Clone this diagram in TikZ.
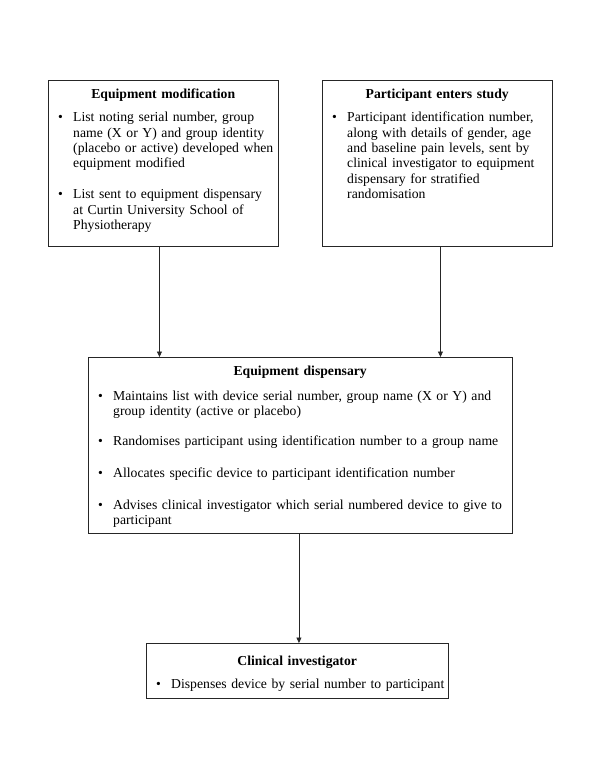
\documentclass[tikz,border=0pt]{standalone}
\usepackage{fontspec}
\setmainfont{Liberation Serif}
\usetikzlibrary{arrows.meta}
\newcommand\itm[1]{\par\noindent\hspace*{10pt}\makebox[15pt][l]{\textbullet}\parbox[t]{\dimexpr\linewidth-25pt\relax}{\raggedright #1}\par}
\newcommand\ttl[2][8pt]{\centerline{\textbf{#2}}\par\vspace{#1}}
\tikzset{
  frame/.style={draw=black!85, line width=0.9pt, inner sep=0pt, anchor=north west},
  txt/.style={inner sep=0pt, anchor=north west, font=\fontsize{13.7}{15.4}\selectfont},
  arr/.style={draw=black!85, line width=0.8pt, -{Triangle[length=5.5pt,width=5pt]}}
}
\begin{document}
\begin{tikzpicture}[x=1pt,y=-1pt]
\useasboundingbox[fill=white] (0,0) rectangle (600,776);
\node[frame, minimum width=230pt, minimum height=166pt] (mod) at (48,80) {};
\node[frame, minimum width=230pt, minimum height=166pt] (part) at (322,80) {};
\node[frame, minimum width=424pt, minimum height=176pt] (disp) at (88,357) {};
\node[frame, minimum width=302pt, minimum height=55pt] (clin) at (146,643) {};

\node[txt, text width=230pt] (modtxt) at (48,88.5) {%
\ttl{Equipment modification}%
\itm{List noting serial number, group\\name (X or Y) and group identity\\(placebo or active) developed when\\equipment modified}%
\vspace{17.5pt}%
\itm{List sent to equipment dispensary\\at Curtin University School of\\Physiotherapy}};

\node[txt, text width=230pt] (parttxt) at (322,88.5) {%
\ttl{Participant enters study}%
\itm{Participant identification number,\\along with details of gender, age\\and baseline pain levels, sent by\\clinical investigator to equipment\\dispensary for stratified\\randomisation}};

\node[txt, text width=424pt] (disptxt) at (88,365.5) {%
\ttl[9.5pt]{Equipment dispensary}%
\itm{Maintains list with device serial number, group name (X or Y) and\\group identity (active or placebo)}%
\vspace{16.5pt}%
\itm{Randomises participant using identification number to a group name}%
\vspace{16.5pt}%
\itm{Allocates specific device to participant identification number}%
\vspace{16.5pt}%
\itm{Advises clinical investigator which serial numbered device to give to\\participant}};

\node[txt, text width=302pt] (clintxt) at (146,655.5) {%
\ttl{Clinical investigator}%
\itm{Dispenses device by serial number to participant}};

\draw[arr] ([xshift=-4pt]mod.south) -- ([xshift=-4pt]mod.south |- disp.north);
\draw[arr] ([xshift=3pt]part.south) -- ([xshift=3pt]part.south |- disp.north);
\draw[arr] ([xshift=-1.5pt]disp.south) -- ([xshift=-1.5pt]disp.south |- clin.north);
\end{tikzpicture}
\end{document}
